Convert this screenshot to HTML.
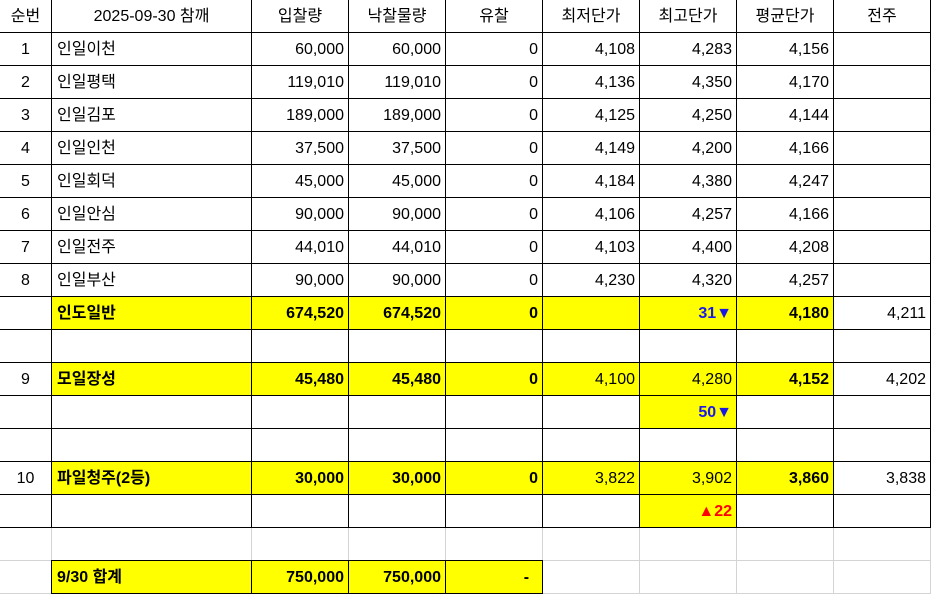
<!DOCTYPE html>
<html><head><meta charset="utf-8"><style>
body{margin:0;width:931px;height:595px;background:#fff;position:relative;overflow:hidden;font-family:"Liberation Sans","Noto Sans CJK KR",sans-serif;font-size:16px;color:#000}
.r{position:absolute;left:0;display:flex}
.r>div{height:33px;box-sizing:border-box;border-right:1px solid #000;border-bottom:1px solid #000;line-height:33px;white-space:nowrap;overflow:hidden}
.g>div{border-color:#d4d4d4!important}
.w0{width:52px;text-align:center}.w1{width:200px;padding-left:5px}.n{width:97px;text-align:right;padding-right:4px}
.h>div{text-align:center;padding:0}
.y{background:#ff0}.b{font-weight:bold}.bl{color:#1a1ae6;font-weight:bold}.rd{color:#f00;font-weight:bold}
.box{position:absolute;left:51px;top:560px;width:492px;height:34px;border:1px solid #000;box-sizing:border-box}
</style></head><body>
<div class="r h" style="top:0"><div class="w0">순번</div><div class="w1">2025-09-30 참깨</div><div class="n">입찰량</div><div class="n">낙찰물량</div><div class="n">유찰</div><div class="n">최저단가</div><div class="n">최고단가</div><div class="n">평균단가</div><div class="n">전주</div></div>
<div class="r" style="top:33px"><div class="w0">1</div><div class="w1">인일이천</div><div class="n">60,000</div><div class="n">60,000</div><div class="n">0</div><div class="n">4,108</div><div class="n">4,283</div><div class="n">4,156</div><div class="n"></div></div>
<div class="r" style="top:66px"><div class="w0">2</div><div class="w1">인일평택</div><div class="n">119,010</div><div class="n">119,010</div><div class="n">0</div><div class="n">4,136</div><div class="n">4,350</div><div class="n">4,170</div><div class="n"></div></div>
<div class="r" style="top:99px"><div class="w0">3</div><div class="w1">인일김포</div><div class="n">189,000</div><div class="n">189,000</div><div class="n">0</div><div class="n">4,125</div><div class="n">4,250</div><div class="n">4,144</div><div class="n"></div></div>
<div class="r" style="top:132px"><div class="w0">4</div><div class="w1">인일인천</div><div class="n">37,500</div><div class="n">37,500</div><div class="n">0</div><div class="n">4,149</div><div class="n">4,200</div><div class="n">4,166</div><div class="n"></div></div>
<div class="r" style="top:165px"><div class="w0">5</div><div class="w1">인일회덕</div><div class="n">45,000</div><div class="n">45,000</div><div class="n">0</div><div class="n">4,184</div><div class="n">4,380</div><div class="n">4,247</div><div class="n"></div></div>
<div class="r" style="top:198px"><div class="w0">6</div><div class="w1">인일안심</div><div class="n">90,000</div><div class="n">90,000</div><div class="n">0</div><div class="n">4,106</div><div class="n">4,257</div><div class="n">4,166</div><div class="n"></div></div>
<div class="r" style="top:231px"><div class="w0">7</div><div class="w1">인일전주</div><div class="n">44,010</div><div class="n">44,010</div><div class="n">0</div><div class="n">4,103</div><div class="n">4,400</div><div class="n">4,208</div><div class="n"></div></div>
<div class="r" style="top:264px"><div class="w0">8</div><div class="w1">인일부산</div><div class="n">90,000</div><div class="n">90,000</div><div class="n">0</div><div class="n">4,230</div><div class="n">4,320</div><div class="n">4,257</div><div class="n"></div></div>
<div class="r" style="top:297px"><div class="w0"></div><div class="w1 y b">인도일반</div><div class="n y b">674,520</div><div class="n y b">674,520</div><div class="n y b">0</div><div class="n y"></div><div class="n y bl">31▼</div><div class="n y b">4,180</div><div class="n">4,211</div></div>
<div class="r" style="top:330px"><div class="w0"></div><div class="w1"></div><div class="n"></div><div class="n"></div><div class="n"></div><div class="n"></div><div class="n"></div><div class="n"></div><div class="n"></div></div>
<div class="r" style="top:363px"><div class="w0">9</div><div class="w1 y b">모일장성</div><div class="n y b">45,480</div><div class="n y b">45,480</div><div class="n y b">0</div><div class="n y">4,100</div><div class="n y">4,280</div><div class="n y b">4,152</div><div class="n">4,202</div></div>
<div class="r" style="top:396px"><div class="w0"></div><div class="w1"></div><div class="n"></div><div class="n"></div><div class="n"></div><div class="n"></div><div class="n y bl">50▼</div><div class="n"></div><div class="n"></div></div>
<div class="r" style="top:429px"><div class="w0"></div><div class="w1"></div><div class="n"></div><div class="n"></div><div class="n"></div><div class="n"></div><div class="n"></div><div class="n"></div><div class="n"></div></div>
<div class="r" style="top:462px"><div class="w0">10</div><div class="w1 y b">파일청주(2등)</div><div class="n y b">30,000</div><div class="n y b">30,000</div><div class="n y b">0</div><div class="n y">3,822</div><div class="n y">3,902</div><div class="n y b">3,860</div><div class="n">3,838</div></div>
<div class="r" style="top:495px"><div class="w0"></div><div class="w1"></div><div class="n"></div><div class="n"></div><div class="n"></div><div class="n"></div><div class="n y rd">▲22</div><div class="n"></div><div class="n"></div></div>
<div class="r g" style="top:528px"><div class="w0"></div><div class="w1"></div><div class="n"></div><div class="n"></div><div class="n"></div><div class="n"></div><div class="n"></div><div class="n"></div><div class="n"></div></div>
<div class="r g" style="top:561px"><div class="w0"></div><div class="w1 y b">9/30 합계</div><div class="n y b">750,000</div><div class="n y b">750,000</div><div class="n y b">-&nbsp;&nbsp;</div><div class="n"></div><div class="n"></div><div class="n"></div><div class="n"></div></div>
<div class="box"></div>
<div style="position:absolute;left:251px;top:560px;width:1px;height:34px;background:#000"></div>
<div style="position:absolute;left:348px;top:560px;width:1px;height:34px;background:#000"></div>
<div style="position:absolute;left:445px;top:560px;width:1px;height:34px;background:#000"></div>
</body></html>
